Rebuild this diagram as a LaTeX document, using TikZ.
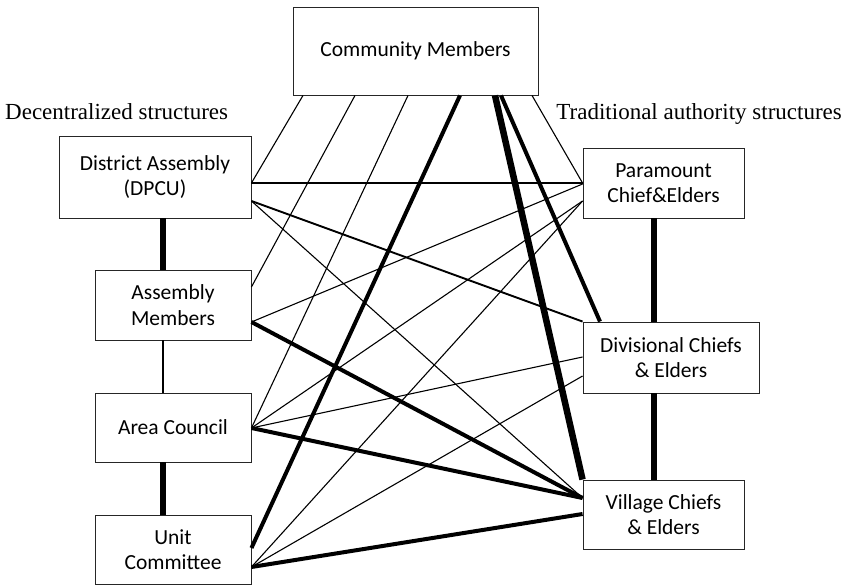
\documentclass[tikz,border=0pt]{standalone}
\usepackage{fontspec}
\setmainfont{Liberation Serif}
\newfontfamily\boxfont{Carlito}
\begin{document}
\begin{tikzpicture}[x=1pt,y=-1pt,
  box/.style={draw=black!85, line width=0.9pt, inner sep=0pt, align=center,
    font=\boxfont\fontsize{21.5}{25.5}\selectfont},
  heading/.style={inner sep=0pt, font=\fontsize{23}{27}\selectfont},
  thin/.style={line width=1.1pt},
  medium/.style={line width=1.9pt},
  thick/.style={line width=4pt},
  vthick/.style={line width=6.5pt}]
\useasboundingbox (0,0) rectangle (843,585);
% boxes
\node[box, minimum width=245pt, minimum height=88pt] (CM) at (415.5,51) {Community Members};
\node[box, minimum width=192pt, minimum height=82pt] (DA) at (155,177) {District Assembly\\(DPCU)};
\node[box, minimum width=156pt, minimum height=70pt] (AM) at (173,305) {Assembly\\Members};
\node[box, minimum width=156pt, minimum height=69pt] (AC) at (173,427.5) {Area Council};
\node[box, minimum width=156pt, minimum height=69pt] (UC) at (173,549.5) {Unit\\Committee};
\node[box, minimum width=161pt, minimum height=70pt] (PC) at (663.5,183) {Paramount\\Chief\&Elders};
\node[box, minimum width=176pt, minimum height=71pt] (DC) at (671,357.5) {Divisional Chiefs\\\& Elders};
\node[box, minimum width=161pt, minimum height=69pt] (VC) at (663.5,514.5) {Village Chiefs\\\& Elders};
% headings
\node[heading, anchor=base west] (hl) at (5,120) {Decentralized structures};
\node[heading, anchor=base east] (hr) at (842,120) {Traditional authority structures};
% from community members
\draw[thin]   (303,0 |- CM.south) -- (DA.east |- 0,183);
\draw[thin]   (355,0 |- CM.south) -- (AM.east |- 0,287);
\draw[thin]   (408,0 |- CM.south) -- (AC.east |- 0,428);
\draw[thick]  (460,0 |- CM.south) -- (UC.east |- 0,548);
\draw[vthick] (495,0 |- CM.south) -- (VC.north west);
\draw[thick]  (501,0 |- CM.south) -- (600,0 |- DC.north);
\draw[thin]   (532,0 |- CM.south) -- (PC.west |- 0,183);
% district assembly
\draw[thin]   (DA.east |- 0,183) -- (PC.west |- 0,183);
\draw[medium] (DA.east |- 0,201) -- (DC.north west);
\draw[thin]   (DA.east |- 0,201) -- (VC.west |- 0,498);
% assembly members
\draw[thin]   (AM.east |- 0,322) -- (PC.west |- 0,184);
\draw[thick]  (AM.east |- 0,322) -- (VC.west |- 0,498);
% area council
\draw[thin]   (AC.east |- 0,428) -- (PC.west |- 0,201);
\draw[thin]   (AC.east |- 0,428) -- (DC.west |- 0,357);
\draw[thick]  (AC.east |- 0,428) -- (VC.west |- 0,498);
% unit committee
\draw[thin]   (UC.east |- 0,567) -- (PC.west |- 0,201);
\draw[thin]   (UC.east |- 0,567) -- (DC.west |- 0,376);
\draw[thick]  (UC.east |- 0,567) -- (VC.west |- 0,514);
% verticals
\draw[vthick] (DA.south -| 163,0) -- (AM.north -| 163,0);
\draw[medium] (AM.south -| 163,0) -- (AC.north -| 163,0);
\draw[vthick] (AC.south -| 163,0) -- (UC.north -| 163,0);
\draw[vthick] (PC.south -| 654,0) -- (DC.north -| 654,0);
\draw[vthick] (DC.south -| 654,0) -- (VC.north -| 654,0);
\end{tikzpicture}
\end{document}
